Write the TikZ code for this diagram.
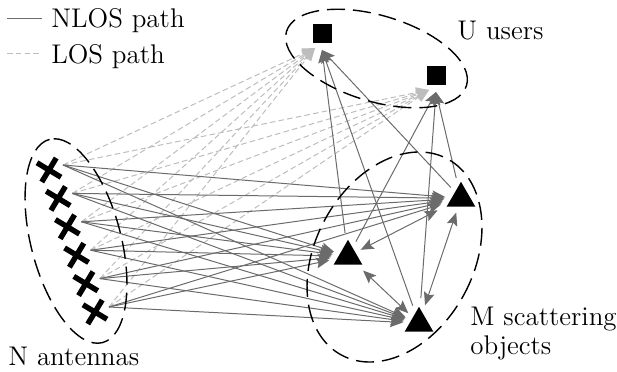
\documentclass[tikz,border=0pt]{standalone}
\usetikzlibrary{shapes.geometric,arrows.meta}
\pgfdeclarelayer{edges}
\pgfsetlayers{edges,main}
\definecolor{nlosgray}{gray}{0.42}
\definecolor{losgray}{gray}{0.74}
\tikzset{
  label text/.style={font=\fontsize{13.5pt}{16pt}\selectfont, anchor=base west, inner sep=0pt},
  user/.style={fill=black, minimum size=9.5pt, inner sep=0pt, outer sep=0pt},
  scatterer/.style={regular polygon, regular polygon sides=3, fill=black,
    minimum size=16.5pt, inner sep=0pt, outer sep=3pt},
  nlos/.style={draw=nlosgray, line width=0.5pt, -{Stealth[length=6.5pt,width=5.4pt,inset=1.2pt]}},
  los/.style={draw=losgray, line width=0.5pt, dash pattern=on 2.8pt off 1.6pt,
    -{Stealth[length=6.5pt,width=5.4pt,inset=1.2pt]}},
  bounce/.style={draw=nlosgray, line width=0.5pt,
    {Stealth[length=6.5pt,width=5.4pt,inset=1.2pt]}-{Stealth[length=6.5pt,width=5.4pt,inset=1.2pt]}},
  group/.style={draw=black, line width=0.7pt, dash pattern=on 9pt off 4pt},
  cross/.pic={\draw[line width=2.7pt] (-7pt,0) -- (7pt,0) (0,-7pt) -- (0,7pt);}
}
\begin{document}
\begin{tikzpicture}[x=0.5pt, y=-0.5pt]
\useasboundingbox (0,0) rectangle (617,371);

% legend
\coordinate (ls1) at (7,18);  \coordinate (ls2) at (42,18);
\coordinate (ld1) at (7,53);  \coordinate (ld2) at (42,53);
\draw[draw=nlosgray, line width=0.5pt] (ls1) -- (ls2);
\draw[draw=losgray, line width=0.5pt, dash pattern=on 2.8pt off 1.6pt] (ld1) -- (ld2);
\node[label text] (tnlos) at (51,27) {NLOS path};
\node[label text] (tlos) at (51,63) {LOS path};

% group outlines
\draw[group, rotate around={104.6:(76,241)}] (76,241) ellipse [x radius=52.5pt, y radius=22.5pt];
\draw[group, rotate around={-16.7:(376.5,58.5)}] (376.5,58.5) ellipse [x radius=47pt, y radius=21.5pt];
\draw[group, rotate around={-28.5:(394.5,257)}] (394.5,257) ellipse [x radius=39.5pt, y radius=55.75pt];

% antenna array
\foreach \k/\x/\y in {1/49/170, 2/58.2/198.4, 3/67.4/226.8, 4/76.6/255.2, 5/85.8/283.6, 6/95/312} {
  \pic[rotate=-31] at (\x,\y) {cross};
  \coordinate (a\k) at (\x+14,\y-5);
}

% users
\node[user] (u1) at (322,33.5) {};
\node[user] (u2) at (436,75.5) {};
\coordinate (u1in) at ([yshift=-3.5pt]u1.south);
\coordinate (u2in) at ([yshift=-3.5pt]u2.south);
\coordinate (u1los) at ([xshift=-3.5pt,yshift=-2.5pt]u1.south);
\coordinate (u2los) at ([xshift=-3.5pt,yshift=-2.5pt]u2.south);

% scattering objects
\node[scatterer] (t1) at (461,198.3) {};
\node[scatterer] (t2) at (348,256.3) {};
\node[scatterer] (t3) at (419,323.3) {};

% labels
\node[label text] (tusers) at (457,39) {U users};
\node[label text] (tant) at (8,365) {N antennas};
\node[label text] (tscat1) at (470,325) {M scattering};
\node[label text] (tscat2) at (470,354) {objects};

% propagation paths
\begin{pgfonlayer}{edges}
  \foreach \k in {1,...,6} {
    \draw[los] (a\k) -- (u1los);
    \draw[los] (a\k) -- (u2los);
  }
  \foreach \k in {1,...,6} {
    \draw[nlos] (a\k) -- (t1);
    \draw[nlos] (a\k) -- (t2);
    \draw[nlos] (a\k) -- (t3);
  }
  \foreach \t in {t1,t2,t3} {
    \draw[nlos] (\t) -- (u1in);
    \draw[nlos] (\t) -- (u2in);
  }
  \draw[bounce] (t2) -- (t1);
  \draw[bounce] (t2) -- (t3);
  \draw[bounce] (t1) -- (t3);
\end{pgfonlayer}
\end{tikzpicture}
\end{document}
